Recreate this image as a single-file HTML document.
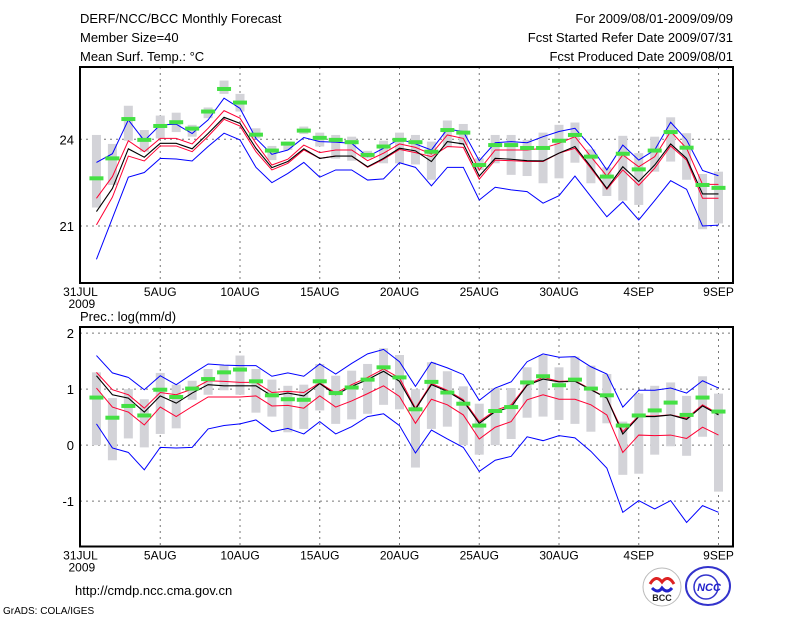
<!DOCTYPE html>
<html><head><meta charset="utf-8"><style>
html,body{margin:0;padding:0;background:#fff;}
svg{display:block;font-family:"Liberation Sans",sans-serif;}
</style></head><body>
<svg id="chart" width="800" height="618" viewBox="0 0 800 618">
<g font-size="13" fill="#000">
<text x="80" y="23">DERF/NCC/BCC Monthly Forecast</text>
<text x="80" y="42">Member Size=40</text>
<text x="80" y="61">Mean Surf. Temp.: °C</text>
<text x="733" y="23" text-anchor="end">For 2009/08/01-2009/09/09</text>
<text x="733" y="42" text-anchor="end">Fcst Started Refer Date 2009/07/31</text>
<text x="733" y="61" text-anchor="end">Fcst Produced Date 2009/08/01</text>
<text x="80" y="321">Prec.: log(mm/d)</text>
<text x="75" y="595">http://cmdp.ncc.cma.gov.cn</text>
<text x="3" y="614" font-size="10">GrADS: COLA/IGES</text>
</g>
<g>
<circle cx="662" cy="587" r="19" fill="#fff" stroke="#bbb"/>
<path d="M650 584 q6 -10 12 -2 q6 -8 12 2" fill="none" stroke="#d22" stroke-width="3"/>
<path d="M652 588 q6 6 10 0 q5 6 10 0" fill="none" stroke="#22c" stroke-width="3"/>
<text x="662" y="601" font-size="9" font-weight="bold" text-anchor="middle" fill="#222">BCC</text>
</g>
<g>
<ellipse cx="708" cy="586" rx="22" ry="19" fill="#fff" stroke="#33c" stroke-width="2"/>
<circle cx="706" cy="587" r="12" fill="none" stroke="#33c" stroke-width="1.5"/>
<text x="709" y="591" font-size="11" font-weight="bold" font-style="italic" text-anchor="middle" fill="#22c">NCC</text>
</g>
<g id="top"></g>
<g id="bot"></g>
</svg>
<script>
// ---- data: temperature panel (days 1..40) ----
const tBlueHi=[23.2,23.5,24.67,23.95,24.5,24.52,24.2,24.67,25.42,25.07,24.03,23.48,23.63,24.06,23.92,23.9,23.86,23.4,23.69,24.01,23.84,23.63,24.35,24.27,23.26,23.88,23.92,23.88,24.09,24.27,24.38,23.75,22.94,23.8,23.28,23.63,24.59,23.98,22.92,22.74];
const tRedHi=[21.96,22.71,23.95,23.57,24.03,24.03,23.84,24.38,24.99,24.73,23.86,23.11,23.31,23.8,23.54,23.63,23.63,23.26,23.52,23.84,23.72,23.49,24.15,24.03,22.94,23.63,23.63,23.63,23.69,23.86,24.09,23.4,22.73,23.46,23.05,23.4,24.27,23.69,22.44,22.44];
const tMean=[21.5,22.3,23.67,23.38,23.86,23.86,23.67,24.2,24.76,24.55,23.69,23.02,23.23,23.67,23.34,23.42,23.42,23.05,23.34,23.69,23.6,23.23,23.92,23.84,22.73,23.34,23.31,23.26,23.25,23.52,23.75,23.05,22.3,23.05,22.54,23.11,23.84,23.34,22.11,22.11];
const tRedLo=[21.04,22.0,23.42,23.25,23.77,23.77,23.57,24.1,24.69,24.46,23.57,22.94,23.17,23.63,23.34,23.42,23.42,23.03,23.31,23.65,23.54,23.4,23.75,23.72,22.62,23.28,23.26,23.23,23.23,23.52,23.69,23.0,22.27,22.94,22.41,23.0,23.77,23.28,21.96,21.96];
const tBlueLo=[19.85,21.27,22.69,22.85,23.34,23.32,23.25,23.75,24.21,23.98,23.03,22.5,22.82,23.2,22.69,22.94,22.94,22.59,22.63,23.19,23.03,22.39,23.03,23.03,21.9,22.34,22.25,22.19,21.79,22.05,22.73,22.02,21.32,21.84,21.21,21.88,22.57,22.27,21.0,21.03];
const tGreen=[22.65,23.34,24.7,23.98,24.46,24.59,24.37,24.96,25.74,25.27,24.16,23.61,23.85,24.3,24.05,23.98,23.9,23.46,23.75,23.98,23.9,23.57,24.32,24.23,23.11,23.8,23.8,23.7,23.7,23.95,24.15,23.4,22.71,23.5,22.96,23.61,24.25,23.71,22.42,22.32];
const tBarHi=[24.15,23.84,25.16,24.32,24.82,24.92,24.5,25.1,26.03,25.57,24.38,23.77,23.92,24.44,24.23,24.15,24.09,23.6,23.95,24.23,24.15,23.92,24.65,24.53,23.34,24.15,24.15,23.98,24.23,24.5,24.58,23.65,23.03,24.12,23.52,24.09,24.76,24.21,22.8,22.88];
const tBarLo=[21.64,22.42,23.95,23.57,24.03,24.25,24.09,24.73,25.57,24.96,24.03,23.28,23.63,24.18,23.75,23.33,23.26,23.34,23.17,23.17,23.13,22.6,23.72,23.8,22.94,23.17,22.77,22.73,22.48,22.65,23.19,22.48,22.04,21.88,21.73,22.88,23.23,22.6,20.89,21.09];
const tTicks=[21,24];
// ---- data: precipitation panel ----
const pBlueHi=[1.6,1.29,1.21,0.99,1.24,1.08,1.27,1.45,1.43,1.42,1.42,1.23,1.29,1.23,1.45,1.27,1.46,1.63,1.71,1.49,1.05,1.48,1.38,1.26,0.8,1.02,1.13,1.49,1.63,1.57,1.58,1.4,1.27,0.68,0.98,0.98,1.02,0.93,1.15,1.02];
const pRedHi=[1.3,0.99,0.9,0.66,0.94,0.9,1.0,1.15,1.14,1.12,1.12,0.94,0.96,0.94,1.11,0.93,1.08,1.21,1.36,1.2,0.66,1.1,0.98,0.81,0.42,0.62,0.72,1.08,1.21,1.14,1.15,1.0,0.84,0.24,0.52,0.52,0.54,0.48,0.72,0.56];
const pMean=[1.24,0.9,0.84,0.59,0.88,0.75,0.93,1.08,1.06,1.06,1.06,0.88,0.93,0.88,1.1,0.9,1.05,1.17,1.32,1.14,0.64,1.08,0.96,0.79,0.39,0.6,0.68,1.07,1.18,1.13,1.14,0.99,0.84,0.2,0.51,0.51,0.54,0.46,0.7,0.54];
const pRedLo=[1.02,0.68,0.59,0.36,0.68,0.51,0.69,0.86,0.86,0.86,0.88,0.7,0.71,0.66,0.88,0.68,0.79,0.92,1.06,0.87,0.39,0.82,0.72,0.54,0.11,0.32,0.42,0.81,0.9,0.82,0.82,0.72,0.54,-0.13,0.18,0.17,0.18,0.12,0.32,0.18];
const pBlueLo=[0.38,-0.05,-0.13,-0.44,-0.04,-0.05,-0.04,0.29,0.35,0.38,0.45,0.24,0.3,0.2,0.42,0.2,0.33,0.51,0.56,0.35,-0.14,0.27,0.11,-0.04,-0.47,-0.27,-0.2,0.15,0.08,0.17,0.13,-0.11,-0.41,-1.2,-0.99,-1.14,-0.99,-1.38,-1.08,-1.2];
const pGreen=[0.85,0.49,0.7,0.53,0.99,0.86,1.01,1.18,1.3,1.35,1.14,0.89,0.82,0.81,1.14,0.93,1.03,1.17,1.39,1.21,0.64,1.13,0.94,0.74,0.35,0.61,0.68,1.12,1.23,1.07,1.17,1.01,0.89,0.35,0.53,0.62,0.76,0.54,0.85,0.6];
const pBarHi=[1.3,0.84,1.0,0.82,1.29,1.08,1.15,1.36,1.42,1.6,1.36,1.17,1.06,1.08,1.45,1.24,1.33,1.45,1.73,1.61,1.0,1.48,1.32,1.05,0.74,1.02,1.02,1.39,1.61,1.39,1.58,1.42,1.27,0.42,0.92,1.06,1.12,0.88,1.23,0.92];
const pBarLo=[0.0,-0.27,0.12,-0.04,0.2,0.3,0.81,0.9,0.98,0.9,0.58,0.51,0.23,0.29,0.62,0.38,0.46,0.56,0.72,0.64,-0.4,0.29,0.33,0.0,-0.17,0.0,0.11,0.49,0.51,0.45,0.38,0.24,0.39,-0.53,-0.51,-0.17,-0.02,-0.19,0.15,-0.83];
const pTicks=[-1,0,1,2];
const xTickDays=[0,5,10,15,20,25,30,35,40];
const xTickLabels=["31JUL","5AUG","10AUG","15AUG","20AUG","25AUG","30AUG","4SEP","9SEP"];

const NS="http://www.w3.org/2000/svg";
const L=80,R=733;
const xs=d=>80.5+15.95*d;
function mk(tag,attrs,parent){const e=document.createElementNS(NS,tag);for(const k in attrs)e.setAttribute(k,attrs[k]);parent.appendChild(e);return e;}

function panel(g,top,bot,vmin,vmax,ticks,S,prefix){
  const ys=v=>bot-(v-vmin)/(vmax-vmin)*(bot-top);
  xTickDays.forEach((d,i)=>{
    if(d>0){const gl=mk('line',{x1:xs(d),x2:xs(d),y1:top,y2:bot,stroke:'#777','stroke-dasharray':'2,4','stroke-width':1},g);
    
    }
    const t=mk('text',{x:xs(d),y:bot+13,'font-size':12,'text-anchor':'middle'},g);t.textContent=xTickLabels[i];
    
    
  });
  const yr=mk('text',{x:xs(0)-12,y:bot+25,'font-size':12},g);yr.textContent='2009';
  
  
  ticks.forEach(v=>{
    const gl=mk('line',{x1:L,x2:R,y1:ys(v),y2:ys(v),stroke:'#777','stroke-dasharray':'2,4',"stroke-width":1},g);
    
    
    const t=mk('text',{x:L-6,y:ys(v)+5,'font-size':13,'text-anchor':'end'},g);t.textContent=String(v);
    
    
  });
  for(let i=0;i<S.barHi.length;i++){
    const d=i+1;
    const b=mk('rect',{x:xs(d)-4.5,y:ys(S.barHi[i]),width:9,height:Math.max(1,ys(S.barLo[i])-ys(S.barHi[i])),fill:'#d3d3d8'},g);
    
    
  }
  const line=(arr,col,w,name)=>{
    const p=mk('polyline',{points:arr.map((v,i)=>xs(i+1)+','+ys(v)).join(' '),fill:'none',stroke:col,'stroke-width':w},g);
    
    
  };
  line(S.blueHi,'#0000ff',1,prefix+'-upper-bound-line');
  line(S.blueLo,'#0000ff',1,prefix+'-lower-bound-line');
  line(S.redHi,'#ff0033',1,prefix+'-upper-quartile-line');
  line(S.redLo,'#ff0033',1,prefix+'-lower-quartile-line');
  line(S.mean,'#000',1.1,prefix+'-ensemble-mean-line');
  for(let i=0;i<S.green.length;i++){
    const m=mk('rect',{x:xs(i+1)-7,y:ys(S.green[i])-2,width:14,height:4,fill:'#44e044'},g);
    
    
  }
  const f=mk('rect',{x:L,y:top,width:R-L,height:bot-top,fill:'none',stroke:'#000','stroke-width':2},g);
  
  
}
const topG=document.getElementById('top');


panel(topG,67,283,19.03,26.5,tTicks,{blueHi:tBlueHi,redHi:tRedHi,mean:tMean,redLo:tRedLo,blueLo:tBlueLo,green:tGreen,barHi:tBarHi,barLo:tBarLo},'temp');
const botG=document.getElementById('bot');


panel(botG,327,546.5,-1.81,2.11,pTicks,{blueHi:pBlueHi,redHi:pRedHi,mean:pMean,redLo:pRedLo,blueLo:pBlueLo,green:pGreen,barHi:pBarHi,barLo:pBarLo},'prec');
</script>
</body></html>
